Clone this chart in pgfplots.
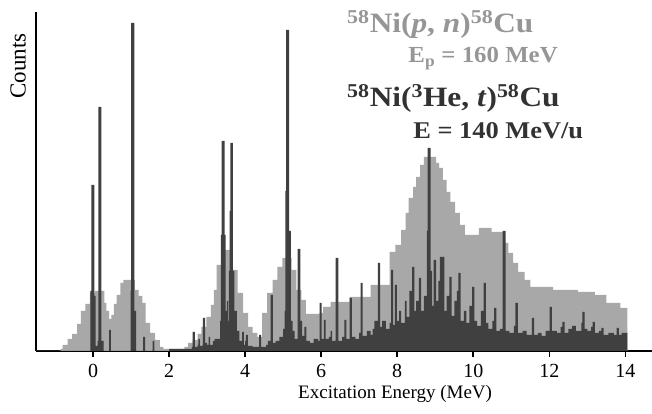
\documentclass[border=0pt]{standalone}
\usepackage{pgfplots}
\pgfplotsset{compat=1.18}
\usepackage{fontspec}
\setmainfont{Liberation Serif}
\definecolor{lightg}{RGB}{168,168,168}
\definecolor{darkg}{RGB}{64,64,64}
\definecolor{txtlight}{RGB}{150,150,150}
\definecolor{txtdark}{RGB}{50,50,50}
\begin{document}
\begin{tikzpicture}
\begin{axis}[
  scale only axis, width=616pt, height=339pt,
  xmin=-1.5, xmax=14.7, ymin=0, ymax=339,
  axis lines=left,
  axis line style={-, line width=1.6pt, black},
  xtick={0,2,...,14}, ytick=\empty,
  tick align=outside, major tick length=6pt,
  xtick style={line width=1.6pt, black},
  /pgf/number format/assume math mode=true,
  ticklabel style={font=\fontsize{20}{22}\selectfont},
  xticklabel style={yshift=-4pt},
  xlabel={Excitation Energy (MeV)},
  xlabel style={at={(axis description cs:0.583,-0.127)}, anchor=center, font=\fontsize{19}{22}\selectfont},
  clip=false,
]
% (p,n) spectrum, light gray histogram
\addplot[const plot, fill=lightg, draw=none] coordinates {
(-1.5,0)(-0.85,2)(-0.8,6)(-0.67,12)(-0.55,17)(-0.42,27)(-0.32,40)(-0.2,47)(-0.08,58)(0.05,60)(0.3,48)(0.35,40)(0.42,32)(0.48,36)(0.55,47)(0.62,56)(0.72,68)(0.8,71)(1.1,61)(1.2,55)(1.3,48)(1.38,28)(1.5,18)(1.63,11)(1.76,4)(1.85,2)(2.4,4)(2.5,8)(2.62,11)(2.75,17)(2.85,24)(2.98,34)(3.1,46)(3.18,61)(3.25,86)(3.4,101)(3.68,81)(3.8,58)(3.95,38)(4.08,24)(4.2,18)(4.32,14)(4.45,38)(4.58,58)(4.72,71)(4.85,84)(4.98,93)(5.22,81)(5.35,61)(5.48,51)(5.6,37)(5.95,38)(6.05,44)(6.25,49)(6.75,54)(7.3,66)(7.8,99)(7.95,106)(8.1,121)(8.22,138)(8.3,153)(8.42,164)(8.5,174)(8.6,186)(8.7,194)(9.02,188)(9.1,183)(9.2,171)(9.3,159)(9.4,149)(9.52,138)(9.65,126)(9.78,116)(10.15,123)(10.48,119)(10.8,108)(10.92,98)(11.05,88)(11.18,79)(11.35,71)(11.5,64)(12.1,61)(12.75,59)(13.2,56)(13.5,48)(13.87,43)(14.05,0)
} \closedcycle;
% (3He,t) spectrum, dark histogram
\addplot[const plot, fill=darkg, draw=none] coordinates {
(-1.5,0)(-0.09,0)(-0.07,60)(-0.045,166)(0.035,55)(0.07,5)(0.12,10)(0.14,244)(0.22,10)(0.28,0)(0.41,0)(0.42,21)(0.47,0)(0.97,0)(0.99,60)(1.0,328)(1.09,40)(1.13,0)(1.3,0)(1.32,14)(1.37,0)(1.55,0)(1.57,10)(1.61,0)(2.0,2)(2.4,2)(2.6,4)(2.62,19)(2.68,4)(2.75,6)(2.77,12)(2.81,5)(2.88,6)(2.89,33)(2.95,8)(3.0,6)(3.04,14)(3.08,6)(3.15,10)(3.2,12)(3.34,30)(3.36,116)(3.38,210)(3.46,116)(3.49,40)(3.52,50)(3.55,30)(3.57,80)(3.59,140)(3.61,208)(3.68,80)(3.72,40)(3.78,20)(3.85,10)(3.92,19)(3.97,6)(4.0,10)(4.02,16)(4.07,5)(4.2,4)(4.37,16)(4.42,4)(4.55,6)(4.6,10)(4.67,56)(4.73,8)(4.8,10)(4.9,14)(5.0,22)(5.04,40)(5.06,160)(5.08,321)(5.16,120)(5.2,30)(5.25,20)(5.3,12)(5.38,102)(5.45,30)(5.5,15)(5.56,24)(5.61,10)(5.7,8)(5.8,12)(5.92,10)(5.96,48)(6.01,12)(6.07,31)(6.12,12)(6.2,14)(6.25,20)(6.29,10)(6.38,93)(6.45,10)(6.55,14)(6.61,31)(6.66,12)(6.75,53)(6.81,14)(6.9,12)(7.0,18)(7.04,68)(7.09,15)(7.2,20)(7.3,16)(7.35,22)(7.4,30)(7.49,88)(7.55,24)(7.6,30)(7.7,22)(7.8,28)(7.84,81)(7.89,26)(7.94,66)(7.99,30)(8.05,40)(8.1,28)(8.2,50)(8.25,34)(8.32,60)(8.39,84)(8.45,40)(8.5,50)(8.57,73)(8.63,40)(8.7,55)(8.78,120)(8.8,203)(8.88,80)(8.92,45)(8.96,91)(9.02,50)(9.08,70)(9.12,94)(9.2,94)(9.24,40)(9.3,55)(9.37,74)(9.43,35)(9.5,50)(9.57,60)(9.61,78)(9.67,30)(9.75,40)(9.82,28)(9.9,45)(9.97,64)(10.03,30)(10.1,25)(10.2,40)(10.27,68)(10.33,28)(10.4,22)(10.5,30)(10.55,43)(10.61,20)(10.7,22)(10.77,120)(10.85,20)(10.95,18)(11.07,25)(11.11,48)(11.17,18)(11.3,20)(11.4,16)(11.54,33)(11.6,16)(11.7,18)(11.8,15)(11.9,20)(12.01,44)(12.07,20)(12.2,18)(12.3,24)(12.34,29)(12.4,18)(12.5,22)(12.6,25)(12.7,20)(12.84,28)(12.87,39)(12.93,22)(13.0,20)(13.1,24)(13.14,29)(13.2,18)(13.3,20)(13.37,23)(13.43,16)(13.55,18)(13.7,16)(13.77,23)(13.83,16)(13.9,18)(14.05,0)
} \closedcycle;
\node[rotate=90, anchor=center, inner sep=0pt, font=\fontsize{23}{26}\selectfont] at (axis description cs:-0.029,0.84) {Counts};
\node[anchor=base west, text=txtlight, inner sep=0pt] at (axis cs:6.68,318) {\scalebox{1.12}[1]{\bfseries\fontsize{28}{30}\selectfont\textsuperscript{58}Ni(\textit{p}, \textit{n})\textsuperscript{58}Cu}};
\node[anchor=base west, text=txtlight, inner sep=0pt] at (axis cs:8.29,288) {\scalebox{1.08}[1]{\bfseries\fontsize{23}{26}\selectfont E\textsubscript{p} = 160 MeV}};
\node[anchor=base west, text=txtdark, inner sep=0pt] at (axis cs:6.68,244) {\scalebox{1.12}[1]{\bfseries\fontsize{28}{30}\selectfont\textsuperscript{58}Ni(\textsuperscript{3}He, \textit{t})\textsuperscript{58}Cu}};
\node[anchor=base west, text=txtdark, inner sep=0pt] at (axis cs:8.42,212) {\scalebox{1.1}[1]{\bfseries\fontsize{24}{26}\selectfont E = 140 MeV/u}};
\coordinate (ll) at (rel axis cs:0,0);
\coordinate (ur) at (rel axis cs:1,1);
\end{axis}
\pgfresetboundingbox
\path[use as bounding box] ([shift={(-36pt,-63pt)}]ll) rectangle ([shift={(0pt,12pt)}]ur);
\end{tikzpicture}
\end{document}
